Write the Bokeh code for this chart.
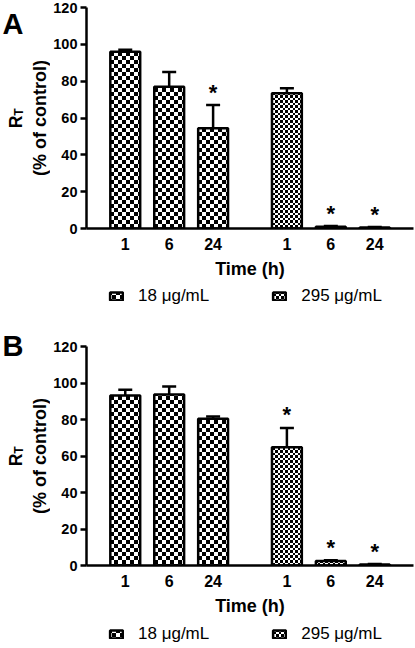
import math
import numpy as np
from bokeh.plotting import figure
from bokeh.layouts import column, row
from bokeh.models import (ColumnDataSource, FactorRange, Range1d, Whisker, TeeHead,
                          Label, Legend, LegendItem, CanvasTexture)
from bokeh.core.properties import value
from bokeh.embed import file_html
from bokeh.resources import INLINE

# ---------------- data ----------------
times = ["1", "6", "24"]
groups = ["18 μg/mL", "295 μg/mL"]
yticks = [0, 20, 40, 60, 80, 100, 120]

# Panel A
a_18 = [96.0, 77.0, 54.5]
a_18_err = [1.0, 8.0, 12.5]
a_18_star = [False, False, True]
a_295 = [73.5, 1.0, 0.6]
a_295_err = [2.7, 0.3, 0.2]
a_295_star = [False, True, True]

# Panel B
b_18 = [93.2, 93.7, 80.4]
b_18_err = [3.1, 4.4, 1.2]
b_18_star = [False, False, False]
b_295 = [64.8, 2.5, 0.6]
b_295_err = [10.6, 0.4, 0.2]
b_295_star = [True, True, True]

FONT = "Liberation Sans"
LEFT_W = 50
TOTAL_W = 415


def checker_js(a, b):
    # tile of size a+b, black cells in the two diagonal quarters
    return f"""
const c = ctx.canvas;
c.width = {a + b}; c.height = {a + b};
const g = c.getContext('2d');
g.fillStyle = '#000000';
g.fillRect(0, 0, {a}, {a});
g.fillRect({a}, {a}, {b}, {b});
"""


BAR_STYLE = dict(fill_color="white", line_color="black", line_width=2.5,
                 hatch_pattern=value("chk"), hatch_scale=8,
                 hatch_color="black", hatch_alpha=1.0)


def make_panel(letter, v18, e18, s18, v295, e295, s295, fig_h, top, frame_h,
               letter_base, mid, strip_h, legend_bottom):
    textures = [CanvasTexture(code=checker_js(4, 4), repetition="repeat"),
                CanvasTexture(code=checker_js(3, 2), repetition="repeat")]

    # ---------- left strip with the panel letter and y title ----------
    lf = figure(width=LEFT_W, height=fig_h, x_axis_location=None,
                y_axis_location=None, output_backend="svg", toolbar_location=None,
                min_border=0, frame_align=False)
    lf.outline_line_color = None
    lf.grid.grid_line_color = None
    lf.add_layout(Label(x=2, y=fig_h - letter_base, x_units="screen",
                        y_units="screen", text=letter, text_align="left",
                        text_baseline="alphabetic", text_font=FONT,
                        text_font_style="bold", text_font_size="29px",
                        text_color="black"))
    ymid = fig_h - mid
    lf.add_layout(Label(x=15, y=ymid - 4, x_units="screen", y_units="screen",
                        text="R", angle=math.pi / 2, text_align="center",
                        text_baseline="alphabetic", text_font=FONT,
                        text_font_style="bold", text_font_size="17.5px",
                        text_color="black"))
    lf.add_layout(Label(x=18, y=ymid + 6, x_units="screen", y_units="screen",
                        text="T", angle=math.pi / 2, text_align="center",
                        text_baseline="alphabetic", text_font=FONT,
                        text_font_style="bold", text_font_size="12px",
                        text_color="black"))
    lf.add_layout(Label(x=39.5, y=ymid, x_units="screen", y_units="screen",
                        text="(% of control)", angle=math.pi / 2,
                        text_align="center", text_baseline="alphabetic",
                        text_font=FONT, text_font_style="bold",
                        text_font_size="18px", text_color="black"))

    # ---------- main plot ----------
    factors = [(g, t) for g in groups for t in times]
    xr = FactorRange(factors=factors, factor_padding=0.0, group_padding=0.68,
                     range_padding=0.3825, range_padding_units="absolute")
    p = figure(width=TOTAL_W - LEFT_W, height=fig_h, x_range=xr,
               y_range=Range1d(0, 120), output_backend="svg",
               toolbar_location=None, min_border_left=33, min_border_right=2,
               min_border_top=top, min_border_bottom=fig_h - top - frame_h)
    p.outline_line_color = None
    p.grid.grid_line_color = None

    # ---------- legend strip (key renderers have no finite heights: only keys show) ----------
    lg = figure(width=TOTAL_W, height=strip_h, x_range=xr,
                y_range=Range1d(0, 120),
                x_axis_location=None, y_axis_location=None,
                output_backend="svg", toolbar_location=None, min_border=0,
                frame_align=False)
    lg.outline_line_color = None
    lg.grid.grid_line_color = None
    keys = []

    for g, vals, errs, stars, tex in [
        (groups[0], v18, e18, s18, textures[0]),
        (groups[1], v295, e295, s295, textures[1]),
    ]:
        xs = [(g, t) for t in times]
        src = ColumnDataSource(dict(x=xs, top=vals,
                                    upper=[v + e for v, e in zip(vals, errs)]))
        w = Whisker(source=src, base="x", upper="upper", lower="top",
                    dimension="height", line_width=2.5, line_color="black",
                    upper_head=TeeHead(size=14, line_width=2.5, line_color="black"),
                    lower_head=None)
        p.add_layout(w)
        p.vbar(x="x", top="top", width=0.68, source=src,
               hatch_extra={"chk": tex}, **BAR_STYLE)
        sx = [x for x, s in zip(xs, stars) if s]
        sy = [v + e for v, e, s in zip(vals, errs, stars) if s]
        ssrc = ColumnDataSource(dict(x=sx, y=sy, t=["*"] * len(sx)))
        p.text(x="x", y="y", text="t", source=ssrc, text_align="center",
               text_baseline="alphabetic", y_offset=-13,
               text_font=value(FONT), text_font_style="bold",
               text_font_size="22px", text_color="black")
        key_src = ColumnDataSource(dict(x=xs, top=np.full(len(xs), np.nan),
                                        bottom=np.full(len(xs), np.nan)))
        kr = lg.vbar(x="x", top="top", bottom="bottom", width=0.68,
                     source=key_src, hatch_extra={"chk": tex}, **BAR_STYLE)
        keys.append(LegendItem(label=g, renderers=[kr], index=0))

    legend = Legend(items=keys, location=(108, legend_bottom),
                    orientation="horizontal",
                    glyph_width=16, glyph_height=10, label_standoff=14,
                    spacing=62, padding=0, margin=0,
                    border_line_color=None, background_fill_alpha=0,
                    label_text_font=FONT, label_text_font_size="17px",
                    label_text_color="black", label_height=20)
    lg.add_layout(legend, "center")

    # axes
    for ax in (p.xaxis[0], p.yaxis[0]):
        ax.axis_line_width = 2.5
        ax.axis_line_color = "black"
        ax.major_label_text_font = FONT
        ax.major_label_text_font_style = "bold"
        ax.major_label_text_color = "black"
        ax.minor_tick_line_color = None
    yax = p.yaxis[0]
    yax.ticker = yticks
    yax.major_label_text_font_size = "14.5px"
    yax.major_tick_out = 6
    yax.major_tick_in = 0
    yax.major_tick_line_width = 2.5
    yax.major_tick_line_color = "black"
    yax.major_label_standoff = 3

    xax = p.xaxis[0]
    xax.major_label_text_font_size = "16px"
    xax.major_tick_line_color = None
    xax.major_tick_out = 0
    xax.major_tick_in = 0
    xax.major_label_standoff = 9
    xax.group_text_font_size = "1px"
    xax.group_text_color = None
    xax.separator_line_color = None
    xax.axis_label = "Time (h)"
    xax.axis_label_text_font = FONT
    xax.axis_label_text_font_style = "bold"
    xax.axis_label_text_font_size = "18px"
    xax.axis_label_text_color = "black"
    xax.axis_label_standoff = 6

    return column(row(lf, p, spacing=0), lg, spacing=0)


panelA = make_panel("A", a_18, a_18_err, a_18_star, a_295, a_295_err, a_295_star,
                    fig_h=285, top=7, frame_h=221, letter_base=23, mid=117.5,
                    strip_h=35, legend_bottom=14)
panelB = make_panel("B", b_18, b_18_err, b_18_star, b_295, b_295_err, b_295_star,
                    fig_h=298, top=26, frame_h=219, letter_base=25, mid=135.5,
                    strip_h=30, legend_bottom=4)

layout = column(panelA, panelB, spacing=0)
open("out.html", "w").write(file_html(layout, INLINE))
